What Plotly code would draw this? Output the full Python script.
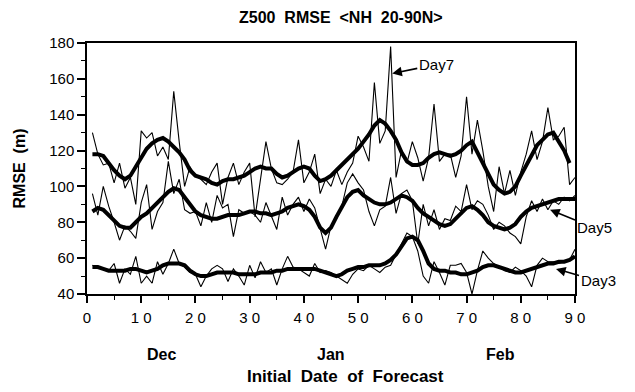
import plotly.graph_objects as go

days = list(range(1, 91))

day7_thin = [130, 118, 112, 113, 102, 113, 99, 105, 90, 131,
             127, 130, 117, 122, 115, 153, 125, 100, 111, 106,
             104, 101, 108, 113, 90, 105, 113, 101, 108, 113,
             83, 105, 125, 110, 102, 101, 104, 108, 126, 102,
             108, 118, 96, 104, 100, 109, 101, 108, 113, 128,
             122, 114, 158, 124, 131, 178, 105, 120, 113, 125,
             116, 103, 116, 146, 114, 118, 118, 105, 117, 150,
             118, 137, 120, 100, 86, 111, 96, 109, 95, 108,
             118, 131, 115, 125, 144, 126, 128, 133, 101, 105]

day7_smooth = [118, 118, 117, 113, 109, 106, 104, 106, 111, 116,
               121, 124, 126, 127, 125, 122, 119, 115, 109, 106,
               105, 104, 102, 101, 103, 104, 104, 105, 106, 108,
               110, 111, 110, 110, 107, 105, 106, 108, 110, 111,
               110, 106, 103, 104, 106, 109, 112, 115, 118, 121,
               125, 129, 134, 137, 135, 131, 126, 119, 114, 112,
               112, 113, 116, 118, 119, 118, 117, 118, 120, 123,
               125, 119, 113, 106, 101, 98, 96, 97, 100, 106,
               112, 118, 123, 126, 129, 130, 125, 120, 113]

day5_thin = [96, 84, 100, 89, 80, 70, 78, 75, 71, 91,
             101, 76, 86, 91, 114, 96, 104, 87, 85, 86,
             78, 91, 80, 95, 88, 90, 72, 87, 85, 86,
             84, 80, 91, 83, 76, 94, 84, 90, 94, 86,
             93, 88, 76, 65, 78, 82, 89, 102, 107, 102,
             98, 86, 78, 87, 89, 105, 85, 96, 98, 92,
             68, 90, 78, 87, 76, 82, 81, 89, 86, 101,
             87, 92, 90, 84, 76, 80, 78, 74, 72, 68,
             83, 92, 86, 93, 87, 92, 90, 94, 92, 95]

day5_smooth = [86, 88, 87, 84, 81, 78, 77, 77, 80, 83,
               85, 88, 91, 94, 97, 99, 98, 94, 90, 86,
               84, 83, 82, 82, 83, 84, 84, 84, 85, 86,
               86, 85, 85, 84, 85, 86, 88, 89, 90, 89,
               87, 83, 77, 74, 77, 83, 89, 94, 97, 98,
               95, 93, 91, 90, 90, 91, 93, 95, 94, 92,
               88, 85, 83, 81, 79, 78, 79, 82, 85, 88,
               89, 87, 84, 80, 78, 77, 76, 77, 79, 83,
               86, 88, 89, 90, 91, 92, 93, 93, 93, 93]

day3_thin = [56, 55, 54, 53, 57, 46, 54, 51, 61, 46,
             50, 46, 58, 51, 57, 65, 57, 55, 52, 51,
             44, 50, 54, 56, 54, 47, 54, 50, 45, 56,
             49, 58, 52, 54, 45, 54, 61, 55, 54, 52,
             50, 57, 52, 53, 52, 50, 48, 46, 51, 54,
             53, 56, 54, 52, 55, 56, 62, 68, 74, 72,
             64, 50, 46, 58, 52, 45, 56, 56, 57, 52,
             40, 53, 64, 60, 57, 55, 53, 52, 55, 53,
             50, 44, 56, 60, 58, 58, 57, 58, 59, 65]

day3_smooth = [55, 55, 54, 53, 53, 53, 53, 54, 54, 53,
               52, 53, 54, 56, 57, 57, 57, 56, 53, 51,
               50, 50, 51, 52, 52, 52, 52, 51, 51, 51,
               51, 52, 52, 52, 53, 53, 54, 54, 54, 54,
               54, 54, 53, 52, 51, 50, 51, 53, 54, 55,
               55, 56, 56, 56, 57, 59, 62, 67, 71, 72,
               70, 64, 57, 54, 53, 53, 52, 52, 51, 51,
               52, 53, 55, 56, 56, 55, 54, 53, 52, 52,
               53, 54, 55, 56, 57, 57, 58, 58, 59, 61]

x_ticks = [0, 10, 20, 30, 40, 50, 60, 70, 80, 90]
x_ticktext = ["0", "1 0", "2 0", "3 0", "4 0", "5 0", "6 0", "7 0", "8 0", "9 0"]
y_ticks = [40, 60, 80, 100, 120, 140, 160, 180]
months = ["Dec", "Jan", "Feb"]
month_pos = [13.8, 45.0, 76.2]

FONT = "Liberation Sans, Arial, Helvetica, sans-serif"

fig = go.Figure()
thin = dict(color="black", width=1.1)
thick = dict(color="black", width=4)
for ys in (day7_thin, day5_thin, day3_thin):
    fig.add_trace(go.Scatter(x=days[:len(ys)], y=ys, mode="lines", line=thin,
                             showlegend=False, hoverinfo="skip"))
for ys in (day7_smooth, day5_smooth, day3_smooth):
    fig.add_trace(go.Scatter(x=days[:len(ys)], y=ys, mode="lines", line=thick,
                             showlegend=False, hoverinfo="skip"))

fig.update_layout(
    width=635, height=392,
    margin=dict(l=87, r=60, t=43, b=98),
    paper_bgcolor="white", plot_bgcolor="white",
    font=dict(family=FONT, color="black", size=15),
    showlegend=False,
)
fig.update_xaxes(
    range=[0, 90], tickvals=x_ticks, ticktext=x_ticktext,
    showgrid=False, zeroline=False,
    showline=True, linecolor="black", linewidth=1.5, mirror=True,
    ticks="outside", ticklen=7, tickwidth=1.5, tickcolor="black",
    ticklabelstandoff=2,
    minor=dict(dtick=5, tick0=0, ticks="outside", ticklen=4, tickwidth=1.2, tickcolor="black"),
    tickfont=dict(size=15),
)
fig.update_yaxes(
    range=[40, 180], tickvals=y_ticks,
    showgrid=False, zeroline=False,
    showline=True, linecolor="black", linewidth=1.5, mirror=True,
    ticks="outside", ticklen=8, tickwidth=1.5, tickcolor="black",
    minor=dict(dtick=10, tick0=0, ticks="outside", ticklen=4, tickwidth=1.2, tickcolor="black"),
    tickfont=dict(size=15),
)

ann = []
ann.append(dict(text="<b>Z500\u00a0\u00a0RMSE\u00a0\u00a0&lt;NH\u00a0\u00a020-90N&gt;</b>",
                xref="paper", yref="paper", x=0.52, y=1, yshift=26,
                xanchor="center", yanchor="middle", showarrow=False,
                font=dict(size=16, family=FONT)))
ann.append(dict(text="<b>RMSE\u00a0\u00a0(m)</b>", xref="paper", yref="paper",
                x=0, xshift=-68, y=0.5, textangle=-90, showarrow=False,
                xanchor="center", yanchor="middle", font=dict(size=16, family=FONT)))
for m, p in zip(months, month_pos):
    ann.append(dict(text="<b>" + m + "</b>", xref="x", yref="paper", x=p, y=0,
                    yshift=-60, showarrow=False, xanchor="center", yanchor="middle",
                    font=dict(size=16, family=FONT)))
ann.append(dict(text="<b>Initial\u00a0\u00a0Date\u00a0\u00a0of\u00a0\u00a0Forecast</b>",
                xref="x", yref="paper", x=47.6, y=0, yshift=-82, showarrow=False,
                xanchor="center", yanchor="middle", font=dict(size=17, family=FONT)))
# labelled arrows
ann.append(dict(text="Day7", x=56.3, y=163, xref="x", yref="y", ax=44, ay=-9,
                showarrow=True, arrowhead=2, arrowsize=1.2, arrowwidth=1.6,
                arrowcolor="black", font=dict(size=15, family=FONT)))
ann.append(dict(text="Day5", x=85.4, y=87, xref="x", yref="y", ax=44, ay=18,
                showarrow=True, arrowhead=2, arrowsize=1.2, arrowwidth=1.6,
                arrowcolor="black", font=dict(size=15, family=FONT)))
ann.append(dict(text="Day3", x=86.5, y=54, xref="x", yref="y", ax=42, ay=12,
                showarrow=True, arrowhead=2, arrowsize=1.2, arrowwidth=1.6,
                arrowcolor="black", font=dict(size=15, family=FONT)))
fig.update_layout(annotations=ann)

fig.write_html("out.html")
